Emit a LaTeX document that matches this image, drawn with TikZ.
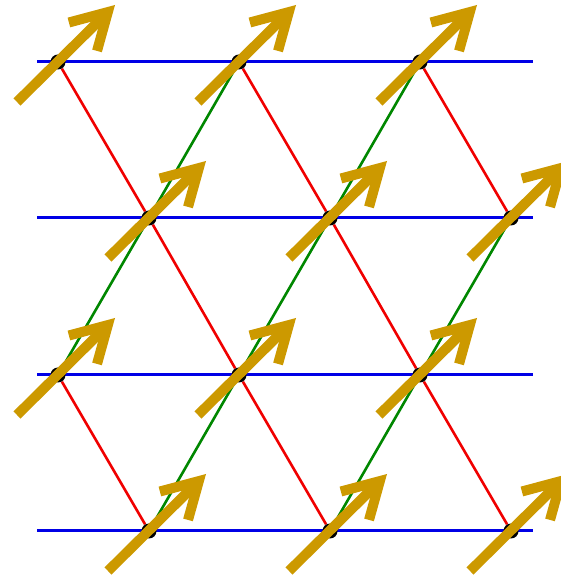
\documentclass[tikz,border=0pt]{standalone}
\usepackage{tikz}
\usetikzlibrary{arrows.meta,calc,backgrounds}
\definecolor{bondblue}{RGB}{0,0,230}
\definecolor{bondred}{RGB}{240,0,0}
\definecolor{bondgreen}{RGB}{0,135,0}
\definecolor{spingold}{RGB}{204,153,0}
\tikzset{
  site/.style={circle,fill=black,inner sep=0pt,minimum size=15pt},
  hbond/.style={draw=bondblue,line width=3pt},
  rbond/.style={draw=bondred,line width=2.6pt},
  gbond/.style={draw=bondgreen,line width=2.6pt},
  spin/.style={draw=spingold,line width=10pt,-{Straight Barb[length=35pt,width=40pt]}}
}
\begin{document}
\begin{tikzpicture}[x=1pt,y=1pt]
  \useasboundingbox (0,0) rectangle (560,581);
  % lattice sites
  \foreach \r/\y/\x in {1/519/58,2/363/149,3/206/58,4/50/149}
    \foreach \c in {1,2,3}
      \node[site] (s\r\c) at ({\x+181*(\c-1)},\y) {};
  \begin{scope}[on background layer]
    \foreach \r/\y in {1/519,2/363,3/206,4/50} {
      \coordinate (l\r) at (37,\y);
      \coordinate (e\r) at (533,\y);
      \draw[hbond] (l\r) -- (e\r);
    }
    \foreach \a/\b in {11/21,12/22,13/23,21/32,22/33,31/41,32/42,33/43}
      \draw[rbond] (s\a) -- (s\b);
    \foreach \a/\b in {21/12,22/13,31/21,32/22,33/23,41/32,42/33}
      \draw[gbond] (s\a) -- (s\b);
  \end{scope}
  % spins
  \foreach \r in {1,...,4}
    \foreach \c in {1,2,3}
      \draw[spin] ([shift={(-41,-40)}]s\r\c.center) -- ++(98,97);
\end{tikzpicture}
\end{document}
